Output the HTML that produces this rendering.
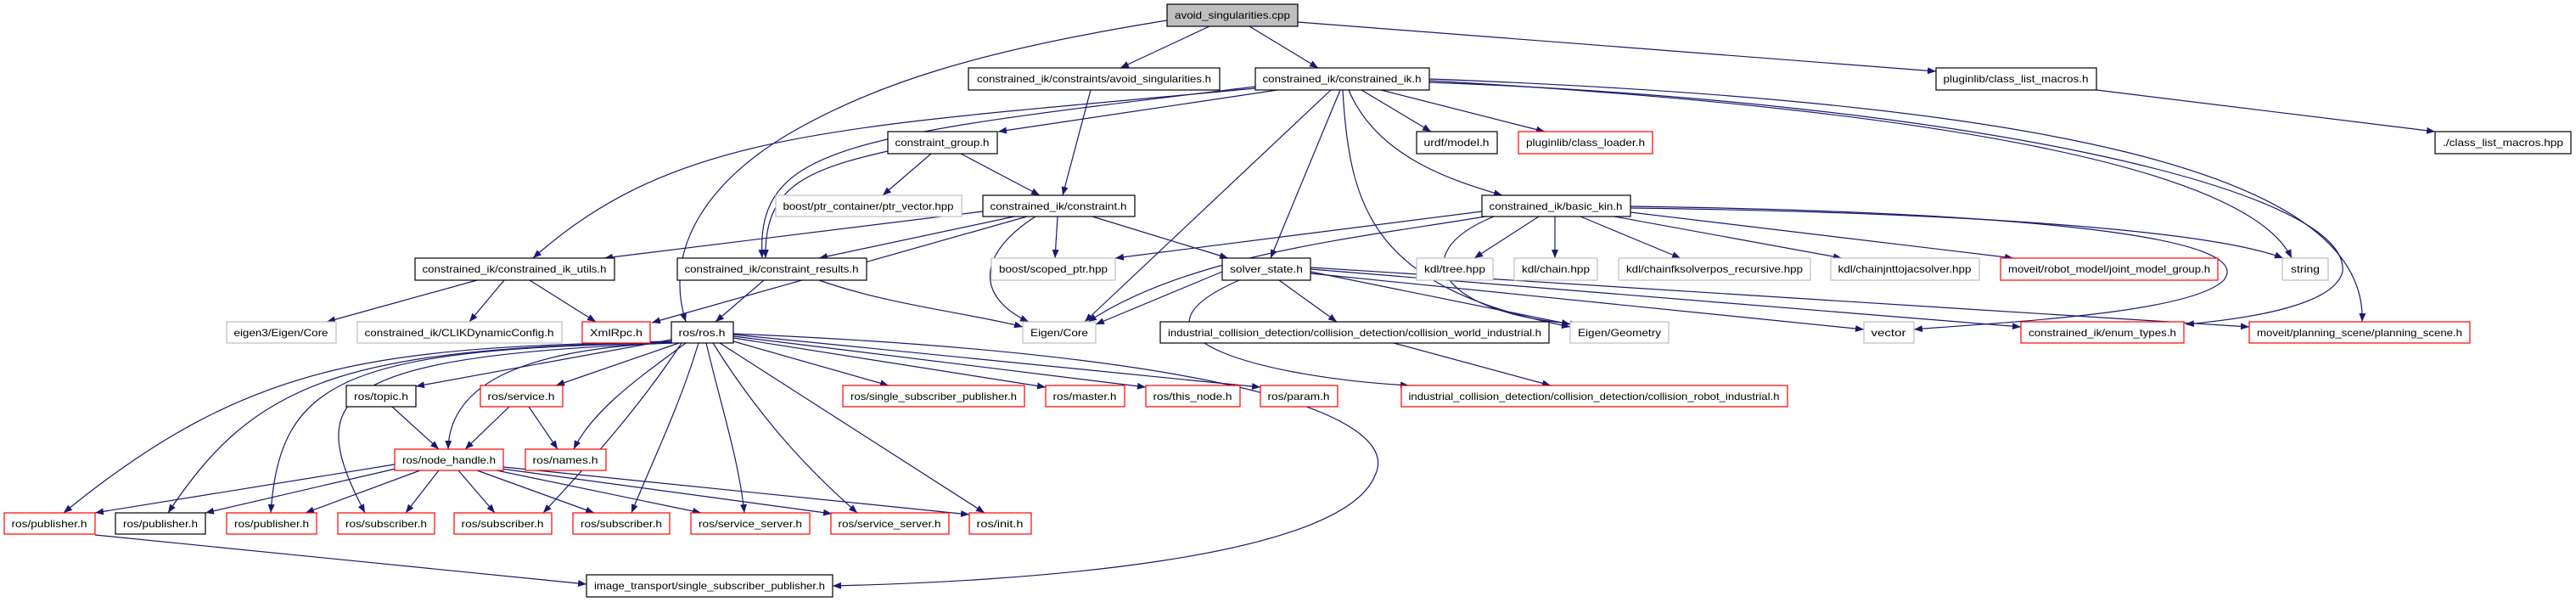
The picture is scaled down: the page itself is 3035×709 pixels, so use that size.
<!DOCTYPE html>
<html><head><meta charset="utf-8"><style>
html,body{margin:0;padding:0;background:#fff;}
svg{display:block;}
text{font-family:"Liberation Sans",sans-serif;font-size:12px;fill:#000;}
.e{fill:none;stroke:#191970;stroke-width:1.2;}
.n{fill:#fff;stroke:#000;stroke-width:1.2;}
.r{fill:#fff;stroke:#ff0000;stroke-width:1.2;}
.g{fill:#fff;stroke:#bfbfbf;stroke-width:1.2;}
</style></head><body>
<svg width="3035" height="709" viewBox="0 0 3035 709" xmlns="http://www.w3.org/2000/svg">
<defs><marker id="a" viewBox="0 0 10 8" refX="10" refY="4" markerWidth="10" markerHeight="8" markerUnits="userSpaceOnUse" orient="auto"><path d="M0,0 L10,4 L0,8 z" fill="#191970"/></marker></defs>
<g marker-end="url(#a)">
<path class="e" d="M1425,31 L1320,80"/>
<path class="e" d="M1472,31 L1553,80"/>
<path class="e" d="M1529,26 L2281,84"/>
<path class="e" d="M1375,24 C1150,60 1030,100 934,155 S780,290 808,379"/>
<path class="e" d="M1285,106 L1252,230"/>
<path class="e" d="M1505,106 L1176,155"/>
<path class="e" d="M1604,106 L1686,155"/>
<path class="e" d="M1627,106 L1820,155"/>
<path class="e" d="M1589,106 C1620,180 1700,210 1770,230"/>
<path class="e" d="M1579,106 L1497,304"/>
<path class="e" d="M1568,106 L1278,379"/>
<path class="e" d="M1582,106 C1590,250 1620,340 1850,385"/>
<path class="e" d="M1479,104 C1000,150 800,150 628,304"/>
<path class="e" d="M1479,102 C1000,160 890,170 898,304"/>
<path class="e" d="M1684,95 C2300,130 2650,200 2700,304"/>
<path class="e" d="M1684,93 C2400,120 2790,200 2783,379"/>
<path class="e" d="M1684,97 C2300,120 2770,220 2760,320 C2750,360 2650,375 2575,382"/>
<path class="e" d="M2470,106 L2869,155"/>
<path class="e" d="M1097,181 L1040,230"/>
<path class="e" d="M1132,181 L1225,230"/>
<path class="e" d="M1046,178 C950,200 900,220 902,304"/>
<path class="e" d="M1158,249 L712,304"/>
<path class="e" d="M1195,255 L965,304"/>
<path class="e" d="M1246,255 L1243,304"/>
<path class="e" d="M1287,255 L1447,304"/>
<path class="e" d="M1220,255 C1150,300 1150,350 1212,379"/>
<path class="e" d="M1210,255 L768,380"/>
<path class="e" d="M1746,249 L1314,304"/>
<path class="e" d="M1813,255 L1737,304"/>
<path class="e" d="M1832,255 L1832,304"/>
<path class="e" d="M1862,255 L1980,304"/>
<path class="e" d="M1902,255 L2170,304"/>
<path class="e" d="M1921,250 L2372,304"/>
<path class="e" d="M1921,245 C2300,250 2600,270 2690,304"/>
<path class="e" d="M1750,255 C1600,280 1400,300 1282,379"/>
<path class="e" d="M1760,255 C1650,300 1700,370 1860,382"/>
<path class="e" d="M1921,243 C2400,250 2660,280 2620,330 C2580,370 2350,380 2255,388"/>
<path class="e" d="M1440,320 L1291,382"/>
<path class="e" d="M1507,330 L1575,379"/>
<path class="e" d="M1544,320 L1850,382"/>
<path class="e" d="M1544,322 L2196,388"/>
<path class="e" d="M1544,317 L2381,385"/>
<path class="e" d="M1544,315 L2650,385"/>
<path class="e" d="M1460,330 C1300,400 1500,445 1660,454"/>
<path class="e" d="M1642,404 L1827,454"/>
<path class="e" d="M900,330 L843,379"/>
<path class="e" d="M965,330 C1050,360 1150,370 1205,385"/>
<path class="e" d="M562,330 L385,379"/>
<path class="e" d="M594,330 L553,379"/>
<path class="e" d="M624,330 L702,379"/>
<path class="e" d="M791,400 L490,455"/>
<path class="e" d="M800,404 L655,454"/>
<path class="e" d="M808,404 C760,440 700,480 676,529"/>
<path class="e" d="M800,403 C620,410 530,450 528,529"/>
<path class="e" d="M791,402 C450,410 300,420 75,604"/>
<path class="e" d="M791,403 C400,410 300,450 198,604"/>
<path class="e" d="M791,404 C400,410 330,450 319,604"/>
<path class="e" d="M791,404 C380,420 360,470 430,604"/>
<path class="e" d="M803,404 C760,470 700,540 640,604"/>
<path class="e" d="M823,404 C800,480 770,540 744,604"/>
<path class="e" d="M832,404 C850,480 870,540 877,604"/>
<path class="e" d="M840,404 C900,500 960,560 1010,604"/>
<path class="e" d="M848,404 L1160,604"/>
<path class="e" d="M864,402 L1047,454"/>
<path class="e" d="M864,398 L1232,456"/>
<path class="e" d="M864,396 L1350,456"/>
<path class="e" d="M864,394 L1485,456"/>
<path class="e" d="M864,393 C1500,420 1650,500 1620,560 C1580,660 1200,685 981,690"/>
<path class="e" d="M462,479 L517,529"/>
<path class="e" d="M600,479 L548,529"/>
<path class="e" d="M623,479 L657,529"/>
<path class="e" d="M465,547 L112,604"/>
<path class="e" d="M475,550 L242,604"/>
<path class="e" d="M495,554 L360,604"/>
<path class="e" d="M517,554 L478,604"/>
<path class="e" d="M540,554 L583,604"/>
<path class="e" d="M562,554 L700,604"/>
<path class="e" d="M585,554 L826,604"/>
<path class="e" d="M590,552 L980,605"/>
<path class="e" d="M593,550 L1142,606"/>
<path class="e" d="M112,630 L691,688"/>
</g>
<g>
<rect x="1375" y="5" width="154" height="26" fill="#bfbfbf" stroke="#000" stroke-width="1.2"/><text x="1452" y="22" text-anchor="middle" textLength="136" lengthAdjust="spacingAndGlyphs">avoid_singularities.cpp</text>
<rect class="n" x="1141" y="80" width="296" height="26"/><text x="1289" y="97" text-anchor="middle" textLength="276" lengthAdjust="spacingAndGlyphs">constrained_ik/constraints/avoid_singularities.h</text>
<rect class="n" x="1479" y="80" width="205" height="26"/><text x="1581" y="97" text-anchor="middle" textLength="187" lengthAdjust="spacingAndGlyphs">constrained_ik/constrained_ik.h</text>
<rect class="n" x="2281" y="80" width="189" height="26"/><text x="2375" y="97" text-anchor="middle" textLength="171" lengthAdjust="spacingAndGlyphs">pluginlib/class_list_macros.h</text>
<rect class="n" x="1046" y="155" width="129" height="26"/><text x="1110" y="172" text-anchor="middle" textLength="111" lengthAdjust="spacingAndGlyphs">constraint_group.h</text>
<rect class="n" x="1669" y="155" width="95" height="26"/><text x="1716" y="172" text-anchor="middle" textLength="77" lengthAdjust="spacingAndGlyphs">urdf/model.h</text>
<rect class="r" x="1789" y="155" width="158" height="26"/><text x="1868" y="172" text-anchor="middle" textLength="140" lengthAdjust="spacingAndGlyphs">pluginlib/class_loader.h</text>
<rect class="n" x="2869" y="155" width="160" height="26"/><text x="2949" y="172" text-anchor="middle" textLength="142" lengthAdjust="spacingAndGlyphs">./class_list_macros.hpp</text>
<rect class="g" x="914" y="230" width="219" height="25"/><text x="1023" y="247" text-anchor="middle" textLength="201" lengthAdjust="spacingAndGlyphs">boost/ptr_container/ptr_vector.hpp</text>
<rect class="n" x="1158" y="230" width="179" height="25"/><text x="1247" y="247" text-anchor="middle" textLength="161" lengthAdjust="spacingAndGlyphs">constrained_ik/constraint.h</text>
<rect class="n" x="1746" y="230" width="175" height="25"/><text x="1833" y="247" text-anchor="middle" textLength="157" lengthAdjust="spacingAndGlyphs">constrained_ik/basic_kin.h</text>
<rect class="n" x="489" y="304" width="235" height="26"/><text x="606" y="321" text-anchor="middle" textLength="217" lengthAdjust="spacingAndGlyphs">constrained_ik/constrained_ik_utils.h</text>
<rect class="n" x="798" y="304" width="223" height="26"/><text x="909" y="321" text-anchor="middle" textLength="205" lengthAdjust="spacingAndGlyphs">constrained_ik/constraint_results.h</text>
<rect class="g" x="1168" y="304" width="146" height="26"/><text x="1241" y="321" text-anchor="middle" textLength="128" lengthAdjust="spacingAndGlyphs">boost/scoped_ptr.hpp</text>
<rect class="n" x="1440" y="304" width="104" height="26"/><text x="1492" y="321" text-anchor="middle" textLength="86" lengthAdjust="spacingAndGlyphs">solver_state.h</text>
<rect class="g" x="1669" y="304" width="90" height="26"/><text x="1714" y="321" text-anchor="middle" textLength="72" lengthAdjust="spacingAndGlyphs">kdl/tree.hpp</text>
<rect class="g" x="1784" y="304" width="98" height="26"/><text x="1833" y="321" text-anchor="middle" textLength="80" lengthAdjust="spacingAndGlyphs">kdl/chain.hpp</text>
<rect class="g" x="1907" y="304" width="226" height="26"/><text x="2020" y="321" text-anchor="middle" textLength="208" lengthAdjust="spacingAndGlyphs">kdl/chainfksolverpos_recursive.hpp</text>
<rect class="g" x="2157" y="304" width="175" height="26"/><text x="2244" y="321" text-anchor="middle" textLength="157" lengthAdjust="spacingAndGlyphs">kdl/chainjnttojacsolver.hpp</text>
<rect class="r" x="2357" y="304" width="256" height="26"/><text x="2485" y="321" text-anchor="middle" textLength="238" lengthAdjust="spacingAndGlyphs">moveit/robot_model/joint_model_group.h</text>
<rect class="g" x="2689" y="304" width="54" height="26"/><text x="2716" y="321" text-anchor="middle" textLength="34" lengthAdjust="spacingAndGlyphs">string</text>
<rect class="g" x="267" y="379" width="129" height="25"/><text x="331" y="396" text-anchor="middle" textLength="111" lengthAdjust="spacingAndGlyphs">eigen3/Eigen/Core</text>
<rect class="g" x="421" y="379" width="241" height="25"/><text x="541" y="396" text-anchor="middle" textLength="223" lengthAdjust="spacingAndGlyphs">constrained_ik/CLIKDynamicConfig.h</text>
<rect class="r" x="686" y="379" width="80" height="25"/><text x="726" y="396" text-anchor="middle" textLength="62" lengthAdjust="spacingAndGlyphs">XmlRpc.h</text>
<rect class="n" x="791" y="379" width="73" height="25" stroke-width="1.8"/><text x="827" y="396" text-anchor="middle" textLength="55" lengthAdjust="spacingAndGlyphs">ros/ros.h</text>
<rect class="g" x="1205" y="379" width="86" height="25"/><text x="1248" y="396" text-anchor="middle" textLength="68" lengthAdjust="spacingAndGlyphs">Eigen/Core</text>
<rect class="n" x="1367" y="379" width="458" height="25"/><text x="1596" y="396" text-anchor="middle" textLength="440" lengthAdjust="spacingAndGlyphs">industrial_collision_detection/collision_detection/collision_world_industrial.h</text>
<rect class="g" x="1850" y="379" width="116" height="25"/><text x="1908" y="396" text-anchor="middle" textLength="98" lengthAdjust="spacingAndGlyphs">Eigen/Geometry</text>
<rect class="g" x="2196" y="379" width="59" height="25"/><text x="2225" y="396" text-anchor="middle" textLength="41" lengthAdjust="spacingAndGlyphs">vector</text>
<rect class="r" x="2381" y="379" width="192" height="25"/><text x="2477" y="396" text-anchor="middle" textLength="174" lengthAdjust="spacingAndGlyphs">constrained_ik/enum_types.h</text>
<rect class="r" x="2650" y="379" width="260" height="25"/><text x="2780" y="396" text-anchor="middle" textLength="242" lengthAdjust="spacingAndGlyphs">moveit/planning_scene/planning_scene.h</text>
<rect class="n" x="408" y="454" width="82" height="25" stroke-width="1.8"/><text x="449" y="471" text-anchor="middle" textLength="64" lengthAdjust="spacingAndGlyphs">ros/topic.h</text>
<rect class="r" x="566" y="454" width="97" height="25"/><text x="614" y="471" text-anchor="middle" textLength="79" lengthAdjust="spacingAndGlyphs">ros/service.h</text>
<rect class="r" x="993" y="454" width="214" height="25"/><text x="1100" y="471" text-anchor="middle" textLength="196" lengthAdjust="spacingAndGlyphs">ros/single_subscriber_publisher.h</text>
<rect class="r" x="1232" y="454" width="93" height="25"/><text x="1278" y="471" text-anchor="middle" textLength="75" lengthAdjust="spacingAndGlyphs">ros/master.h</text>
<rect class="r" x="1350" y="454" width="111" height="25"/><text x="1405" y="471" text-anchor="middle" textLength="93" lengthAdjust="spacingAndGlyphs">ros/this_node.h</text>
<rect class="r" x="1485" y="454" width="91" height="25"/><text x="1530" y="471" text-anchor="middle" textLength="73" lengthAdjust="spacingAndGlyphs">ros/param.h</text>
<rect class="r" x="1651" y="454" width="455" height="25"/><text x="1878" y="471" text-anchor="middle" textLength="437" lengthAdjust="spacingAndGlyphs">industrial_collision_detection/collision_detection/collision_robot_industrial.h</text>
<rect class="r" x="465" y="529" width="128" height="25"/><text x="529" y="546" text-anchor="middle" textLength="110" lengthAdjust="spacingAndGlyphs">ros/node_handle.h</text>
<rect class="r" x="619" y="529" width="95" height="25"/><text x="666" y="546" text-anchor="middle" textLength="77" lengthAdjust="spacingAndGlyphs">ros/names.h</text>
<rect class="r" x="5" y="604" width="107" height="25"/><text x="58" y="621" text-anchor="middle" textLength="89" lengthAdjust="spacingAndGlyphs">ros/publisher.h</text>
<rect class="n" x="136" y="604" width="106" height="25" stroke-width="1.8"/><text x="189" y="621" text-anchor="middle" textLength="88" lengthAdjust="spacingAndGlyphs">ros/publisher.h</text>
<rect class="r" x="267" y="604" width="106" height="25"/><text x="320" y="621" text-anchor="middle" textLength="88" lengthAdjust="spacingAndGlyphs">ros/publisher.h</text>
<rect class="r" x="398" y="604" width="114" height="25"/><text x="455" y="621" text-anchor="middle" textLength="96" lengthAdjust="spacingAndGlyphs">ros/subscriber.h</text>
<rect class="r" x="535" y="604" width="115" height="25"/><text x="592" y="621" text-anchor="middle" textLength="97" lengthAdjust="spacingAndGlyphs">ros/subscriber.h</text>
<rect class="r" x="675" y="604" width="114" height="25"/><text x="732" y="621" text-anchor="middle" textLength="96" lengthAdjust="spacingAndGlyphs">ros/subscriber.h</text>
<rect class="r" x="814" y="604" width="140" height="25"/><text x="884" y="621" text-anchor="middle" textLength="122" lengthAdjust="spacingAndGlyphs">ros/service_server.h</text>
<rect class="r" x="979" y="604" width="139" height="25"/><text x="1048" y="621" text-anchor="middle" textLength="121" lengthAdjust="spacingAndGlyphs">ros/service_server.h</text>
<rect class="r" x="1142" y="604" width="73" height="25"/><text x="1178" y="621" text-anchor="middle" textLength="55" lengthAdjust="spacingAndGlyphs">ros/init.h</text>
<rect class="n" x="691" y="677" width="290" height="26"/><text x="836" y="694" text-anchor="middle" textLength="272" lengthAdjust="spacingAndGlyphs">image_transport/single_subscriber_publisher.h</text>
</g>
</svg>
</body></html>
